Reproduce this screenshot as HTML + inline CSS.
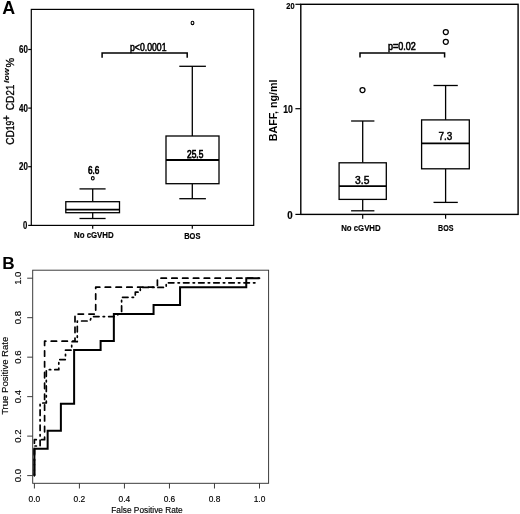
<!DOCTYPE html>
<html><head><meta charset="utf-8"><title>Figure</title>
<style>
html,body{margin:0;padding:0;background:#fff;}
body{width:520px;height:514px;overflow:hidden;font-family:"Liberation Sans",sans-serif;}
svg{display:block;will-change:transform;}
svg text{font-family:"Liberation Sans",sans-serif;fill:#000;}
</style></head><body>
<svg width="520" height="514" viewBox="0 0 520 514">
<rect x="0" y="0" width="520" height="514" fill="#fff"/>

<g id="panelA1">
<text x="2.2" y="13.7" font-size="17.9" font-weight="bold" textLength="12.9" lengthAdjust="spacingAndGlyphs">A</text>
<rect x="31.3" y="9.4" width="222.4" height="216" fill="none" stroke="#000" stroke-width="1.2"/>
<line x1="28.2" y1="225.4" x2="31.3" y2="225.4" stroke="#000" stroke-width="1.2"/>
<text x="22.9" y="228.9" font-size="10" font-weight="bold" textLength="4.3" lengthAdjust="spacingAndGlyphs" stroke="#000" stroke-width="0.2">0</text>
<line x1="28.2" y1="166.7" x2="31.3" y2="166.7" stroke="#000" stroke-width="1.2"/>
<text x="19.0" y="170.1" font-size="10" font-weight="bold" textLength="8.8" lengthAdjust="spacingAndGlyphs" stroke="#000" stroke-width="0.2">20</text>
<line x1="28.2" y1="108.1" x2="31.3" y2="108.1" stroke="#000" stroke-width="1.2"/>
<text x="19.0" y="111.5" font-size="10" font-weight="bold" textLength="8.8" lengthAdjust="spacingAndGlyphs" stroke="#000" stroke-width="0.2">40</text>
<line x1="28.2" y1="49.5" x2="31.3" y2="49.5" stroke="#000" stroke-width="1.2"/>
<text x="19.0" y="52.9" font-size="10" font-weight="bold" textLength="8.8" lengthAdjust="spacingAndGlyphs" stroke="#000" stroke-width="0.2">60</text>
<line x1="92.7" y1="225.4" x2="92.7" y2="228.8" stroke="#000" stroke-width="1.2"/>
<line x1="192.3" y1="225.4" x2="192.3" y2="228.8" stroke="#000" stroke-width="1.2"/>
<text x="74.0" y="238.1" font-size="9.9" font-weight="bold" textLength="39.7" lengthAdjust="spacingAndGlyphs" stroke="#000" stroke-width="0.2">No cGVHD</text>
<text x="184.2" y="239.3" font-size="9.9" font-weight="bold" textLength="16.2" lengthAdjust="spacingAndGlyphs" stroke="#000" stroke-width="0.2">BOS</text>
<g transform="translate(13.8,144.8) rotate(-90)" stroke="#000" stroke-width="0.35"><text x="0" y="0" font-size="11.4" textLength="14.6" lengthAdjust="spacingAndGlyphs">CD</text><text x="14.6" y="0" font-size="11.4" textLength="9.4" lengthAdjust="spacingAndGlyphs">19</text><text x="23.9" y="-4.2" font-size="10" stroke-width="0.4">+</text><text x="34.6" y="0" font-size="11.4" textLength="14.6" lengthAdjust="spacingAndGlyphs">CD</text><text x="49.4" y="0" font-size="11.4" textLength="10.8" lengthAdjust="spacingAndGlyphs">21</text><text x="61.8" y="-5.0" font-size="7.6" font-style="italic" font-weight="bold" stroke-width="0.1" textLength="14.6" lengthAdjust="spacingAndGlyphs">low</text><text x="77.4" y="0" font-size="11.2" textLength="9.6" lengthAdjust="spacingAndGlyphs">%</text></g>
<g fill="none" stroke="#000" stroke-width="1.3">
<line x1="92.7" y1="188.9" x2="92.7" y2="201.7"/><line x1="92.7" y1="212.7" x2="92.7" y2="218.5"/>
<line x1="79.5" y1="188.9" x2="105.6" y2="188.9"/><line x1="79.5" y1="218.5" x2="105.6" y2="218.5"/>
<rect x="65.8" y="201.7" width="53.7" height="11.0" fill="#fff"/>
<line x1="65.8" y1="209.7" x2="119.5" y2="209.7" stroke-width="1.8"/></g>
<g fill="none" stroke="#000" stroke-width="1.3">
<line x1="192.3" y1="66.3" x2="192.3" y2="136.0"/><line x1="192.3" y1="183.7" x2="192.3" y2="198.7"/>
<line x1="179.3" y1="66.3" x2="205.9" y2="66.3"/><line x1="179.3" y1="198.7" x2="205.9" y2="198.7"/>
<rect x="166.0" y="136.0" width="53.0" height="47.7" fill="#fff"/>
<line x1="166.0" y1="160.0" x2="219.0" y2="160.0" stroke-width="1.8"/></g>
<ellipse cx="92.8" cy="178.3" rx="1.4" ry="1.7" fill="#fff" stroke="#000" stroke-width="1.1"/>
<ellipse cx="192.5" cy="22.9" rx="1.4" ry="1.7" fill="#fff" stroke="#000" stroke-width="1.1"/>
<polyline points="102.1,57.7 102.1,52.9 187.2,52.9 187.2,57.7" fill="none" stroke="#000" stroke-width="1.5"/>
<text x="130.0" y="51.2" font-size="10.4" font-weight="normal" textLength="36.5" lengthAdjust="spacingAndGlyphs" stroke="#000" stroke-width="0.55">p&lt;0.0001</text>
<text x="87.9" y="174.1" font-size="10.6" font-weight="normal" textLength="11.4" lengthAdjust="spacingAndGlyphs" stroke="#000" stroke-width="0.7">6.6</text>
<text x="187.0" y="158.0" font-size="11.3" font-weight="normal" textLength="16.4" lengthAdjust="spacingAndGlyphs" stroke="#000" stroke-width="0.75">25.5</text>
</g>
<g id="panelA2">
<rect x="300.8" y="4.3" width="217.3" height="210.1" fill="none" stroke="#000" stroke-width="1.4"/>
<line x1="295.4" y1="214.4" x2="300.8" y2="214.4" stroke="#000" stroke-width="1.2"/>
<line x1="295.4" y1="108.7" x2="300.8" y2="108.7" stroke="#000" stroke-width="1.2"/>
<line x1="295.4" y1="4.3" x2="300.8" y2="4.3" stroke="#000" stroke-width="1.2"/>
<text x="287.3" y="219.2" font-size="10.2" font-weight="bold" textLength="5.4" lengthAdjust="spacingAndGlyphs" stroke="#000" stroke-width="0.2">0</text>
<text x="283.2" y="113.0" font-size="10.2" font-weight="bold" textLength="9.6" lengthAdjust="spacingAndGlyphs" stroke="#000" stroke-width="0.2">10</text>
<text x="286.3" y="8.7" font-size="8.4" font-weight="bold" textLength="8.2" lengthAdjust="spacingAndGlyphs" stroke="#000" stroke-width="0.2">20</text>
<line x1="362.7" y1="214.4" x2="362.7" y2="218.7" stroke="#000" stroke-width="1.2"/>
<line x1="445.6" y1="214.4" x2="445.6" y2="218.7" stroke="#000" stroke-width="1.2"/>
<text x="341.2" y="230.8" font-size="9.9" font-weight="bold" textLength="39.4" lengthAdjust="spacingAndGlyphs" stroke="#000" stroke-width="0.2">No cGVHD</text>
<text x="438.0" y="230.8" font-size="9.9" font-weight="bold" textLength="15.4" lengthAdjust="spacingAndGlyphs" stroke="#000" stroke-width="0.2">BOS</text>
<g transform="translate(277.1,141.3) rotate(-90)"><text x="0" y="0" font-size="11.6" font-weight="bold" textLength="61.8" lengthAdjust="spacingAndGlyphs">BAFF, ng/ml</text></g>
<g fill="none" stroke="#000" stroke-width="1.3">
<line x1="362.7" y1="121.0" x2="362.7" y2="162.8"/><line x1="362.7" y1="199.4" x2="362.7" y2="210.8"/>
<line x1="351.1" y1="121.0" x2="374.4" y2="121.0"/><line x1="351.1" y1="210.8" x2="374.4" y2="210.8"/>
<rect x="339.1" y="162.8" width="47.2" height="36.6" fill="#fff"/>
<line x1="339.1" y1="186.2" x2="386.3" y2="186.2" stroke-width="1.8"/></g>
<g fill="none" stroke="#000" stroke-width="1.3">
<line x1="445.6" y1="85.5" x2="445.6" y2="119.9"/><line x1="445.6" y1="168.8" x2="445.6" y2="202.4"/>
<line x1="433.5" y1="85.5" x2="457.8" y2="85.5"/><line x1="433.5" y1="202.4" x2="457.8" y2="202.4"/>
<rect x="421.6" y="119.9" width="47.7" height="48.9" fill="#fff"/>
<line x1="421.6" y1="143.4" x2="469.3" y2="143.4" stroke-width="1.8"/></g>
<circle cx="362.5" cy="90.1" r="2.5" fill="#fff" stroke="#000" stroke-width="1.25"/>
<circle cx="445.8" cy="32.1" r="2.5" fill="#fff" stroke="#000" stroke-width="1.25"/>
<circle cx="445.8" cy="41.8" r="2.5" fill="#fff" stroke="#000" stroke-width="1.25"/>
<polyline points="360.0,57.5 360.0,52.9 444.6,52.9 444.6,57.5" fill="none" stroke="#000" stroke-width="1.5"/>
<text x="388.0" y="50.0" font-size="10.6" font-weight="normal" textLength="27.8" lengthAdjust="spacingAndGlyphs" stroke="#000" stroke-width="0.6">p=0.02</text>
<text x="355.1" y="183.9" font-size="11.2" font-weight="normal" textLength="14.3" lengthAdjust="spacingAndGlyphs" stroke="#000" stroke-width="0.5">3.5</text>
<text x="438.4" y="139.7" font-size="11.2" font-weight="normal" textLength="13.8" lengthAdjust="spacingAndGlyphs" stroke="#000" stroke-width="0.5">7.3</text>
</g>
<g id="panelB">
<text x="2.2" y="269.2" font-size="16.6" font-weight="bold" textLength="12.4" lengthAdjust="spacingAndGlyphs">B</text>
<rect x="32.7" y="270.2" width="235.9" height="213.1" fill="none" stroke="#333" stroke-width="0.95"/>
<line x1="27.2" y1="475.6" x2="32.7" y2="475.6" stroke="#333" stroke-width="0.95"/>
<line x1="34.4" y1="483.3" x2="34.4" y2="488.5" stroke="#333" stroke-width="0.95"/>
<text x="34.4" y="501.8" font-size="8.4" text-anchor="middle" fill="#000" stroke="#000" stroke-width="0.15">0.0</text>
<g transform="translate(21.2,475.6) rotate(-90) scale(1.15,1)"><text x="0" y="0" font-size="8.3" text-anchor="middle" fill="#000" stroke="#000" stroke-width="0.15">0.0</text></g>
<line x1="27.2" y1="436.12" x2="32.7" y2="436.12" stroke="#333" stroke-width="0.95"/>
<line x1="79.42" y1="483.3" x2="79.42" y2="488.5" stroke="#333" stroke-width="0.95"/>
<text x="79.42" y="501.8" font-size="8.4" text-anchor="middle" fill="#000" stroke="#000" stroke-width="0.15">0.2</text>
<g transform="translate(21.2,436.12) rotate(-90) scale(1.15,1)"><text x="0" y="0" font-size="8.3" text-anchor="middle" fill="#000" stroke="#000" stroke-width="0.15">0.2</text></g>
<line x1="27.2" y1="396.64" x2="32.7" y2="396.64" stroke="#333" stroke-width="0.95"/>
<line x1="124.44" y1="483.3" x2="124.44" y2="488.5" stroke="#333" stroke-width="0.95"/>
<text x="124.44" y="501.8" font-size="8.4" text-anchor="middle" fill="#000" stroke="#000" stroke-width="0.15">0.4</text>
<g transform="translate(21.2,396.64) rotate(-90) scale(1.15,1)"><text x="0" y="0" font-size="8.3" text-anchor="middle" fill="#000" stroke="#000" stroke-width="0.15">0.4</text></g>
<line x1="27.2" y1="357.16" x2="32.7" y2="357.16" stroke="#333" stroke-width="0.95"/>
<line x1="169.46" y1="483.3" x2="169.46" y2="488.5" stroke="#333" stroke-width="0.95"/>
<text x="169.46" y="501.8" font-size="8.4" text-anchor="middle" fill="#000" stroke="#000" stroke-width="0.15">0.6</text>
<g transform="translate(21.2,357.16) rotate(-90) scale(1.15,1)"><text x="0" y="0" font-size="8.3" text-anchor="middle" fill="#000" stroke="#000" stroke-width="0.15">0.6</text></g>
<line x1="27.2" y1="317.68" x2="32.7" y2="317.68" stroke="#333" stroke-width="0.95"/>
<line x1="214.48" y1="483.3" x2="214.48" y2="488.5" stroke="#333" stroke-width="0.95"/>
<text x="214.48" y="501.8" font-size="8.4" text-anchor="middle" fill="#000" stroke="#000" stroke-width="0.15">0.8</text>
<g transform="translate(21.2,317.68) rotate(-90) scale(1.15,1)"><text x="0" y="0" font-size="8.3" text-anchor="middle" fill="#000" stroke="#000" stroke-width="0.15">0.8</text></g>
<line x1="27.2" y1="278.2" x2="32.7" y2="278.2" stroke="#333" stroke-width="0.95"/>
<line x1="259.5" y1="483.3" x2="259.5" y2="488.5" stroke="#333" stroke-width="0.95"/>
<text x="259.5" y="501.8" font-size="8.4" text-anchor="middle" fill="#000" stroke="#000" stroke-width="0.15">1.0</text>
<g transform="translate(21.2,278.2) rotate(-90) scale(1.15,1)"><text x="0" y="0" font-size="8.3" text-anchor="middle" fill="#000" stroke="#000" stroke-width="0.15">1.0</text></g>
<text x="147" y="512.8" font-size="8.3" text-anchor="middle" fill="#000" stroke="#000" stroke-width="0.15">False Positive Rate</text>
<g transform="translate(8.2,375.8) rotate(-90) scale(1.15,1)"><text x="0" y="0" font-size="8.3" text-anchor="middle" fill="#000" stroke="#000" stroke-width="0.15">True Positive Rate</text></g>
<polyline points="34.4,475.6 34.4,446 40.1,446 40.1,403 46.3,403 46.3,369.7 58.8,369.7 58.8,359.6 65.5,359.6 65.5,350.2 71.7,350.2 71.7,341.7 77.3,341.7 77.3,321 90,321 91.5,316.6 115,316.6 121.6,312.4 121.6,297.3 135.3,297.3 135.3,292.2 140.3,292.2 140.3,287.4 166.2,287.4 166.2,282.8 255,282.8" fill="none" stroke="#000" stroke-width="1.7" stroke-dasharray="1.4 4.1 5.5 4.1" stroke-linecap="round" stroke-linejoin="round"/>
<polyline points="34.4,475.6 34.4,439.7 44.6,439.7 44.6,341.2 75,341.2 75,314.1 95.7,314.1 95.7,287.2 157.4,287.2 157.4,278.2 259.5,278.2" fill="none" stroke="#000" stroke-width="1.7" stroke-dasharray="5.4 5.4" stroke-linecap="round" stroke-linejoin="round"/>
<polyline points="34.4,475.6 34.4,448.68 47.64,448.68 47.64,430.74 60.88,430.74 60.88,403.82 74.12,403.82 74.12,349.98 100.61,349.98 100.61,341.01 113.85,341.01 113.85,314.09 153.57,314.09 153.57,305.12 180.05,305.12 180.05,287.17 246.26,287.17 246.26,278.2 259.5,278.2" fill="none" stroke="#000" stroke-width="2.0" stroke-linejoin="miter"/>
</g>
</svg></body></html>
